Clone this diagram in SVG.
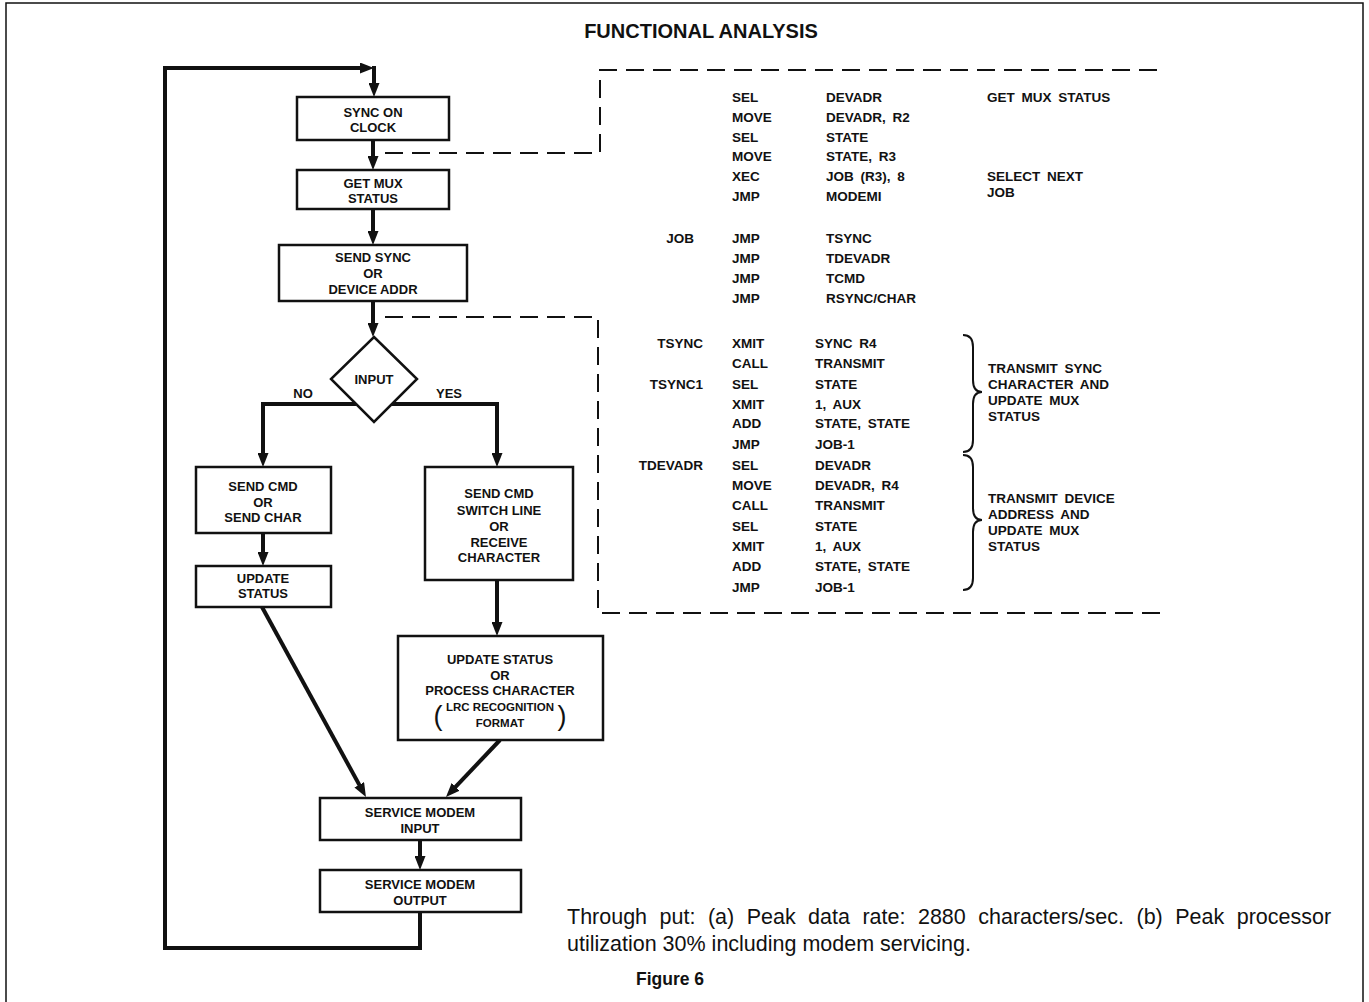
<svg xmlns="http://www.w3.org/2000/svg" width="1369" height="1002" viewBox="0 0 1369 1002">
  <defs>
    <style>
      .box { fill: #fff; stroke: #111; stroke-width: 2.5; }
      .flow { fill: none; stroke: #111; stroke-width: 4; stroke-linejoin: miter; }
      .dash { fill: none; stroke: #111; stroke-width: 2; stroke-dasharray: 18 9; }
      .brace { fill: none; stroke: #111; stroke-width: 2; }
      .lbl { font-family: "Liberation Sans", Arial, Helvetica, sans-serif; font-weight: bold; font-size: 13px; fill: #111; text-anchor: middle; }
      .small { font-size: 11.5px; }
      .code { font-family: "Liberation Sans", Arial, Helvetica, sans-serif; font-weight: bold; font-size: 13.5px; fill: #111; word-spacing: 3px; }
      .tag { text-anchor: end; }
      .note { font-family: "Liberation Sans", Arial, Helvetica, sans-serif; font-size: 21.5px; fill: #111; }
      .paren { font-family: "Liberation Sans", Arial, Helvetica, sans-serif; font-size: 27px; fill: #111; text-anchor: middle; }
    </style>
    <marker id="arrow" markerUnits="userSpaceOnUse" markerWidth="14" markerHeight="11" refX="7" refY="5.5" orient="auto">
      <path d="M0,0 L14,5.5 L0,11 z" fill="#111"/>
    </marker>
  </defs>

  <rect width="1369" height="1002" fill="#fff"/>

  <!-- page frame (open at the bottom) -->
  <path d="M6,1002 V3 H1363 V1002" fill="none" stroke="#111" stroke-width="1.5"/>

  <text x="701" y="38" text-anchor="middle" font-family="'Liberation Sans', Arial, sans-serif" font-weight="bold" font-size="20" fill="#111">FUNCTIONAL ANALYSIS</text>

  <!-- connectors -->
  <g id="connectors">
    <path class="flow" d="M420,912 V948 H165 V68 H367" marker-end="url(#arrow)"/>
    <path class="flow" d="M374,66 V90" marker-end="url(#arrow)"/>
    <path class="flow" d="M373,140 V163" marker-end="url(#arrow)"/>
    <path class="flow" d="M373,209 V238" marker-end="url(#arrow)"/>
    <path class="flow" d="M373,301 V330" marker-end="url(#arrow)"/>
    <path class="flow" d="M356,404 H263 V460" marker-end="url(#arrow)"/>
    <path class="flow" d="M392,404 H497 V460" marker-end="url(#arrow)"/>
    <path class="flow" d="M263,533 V559" marker-end="url(#arrow)"/>
    <path class="flow" d="M497,580 V629" marker-end="url(#arrow)"/>
    <path class="flow" d="M262,607 L362.6,790.9" marker-end="url(#arrow)"/>
    <path class="flow" d="M500,740 L450.8,791.9" marker-end="url(#arrow)"/>
    <path class="flow" d="M420,840 V863" marker-end="url(#arrow)"/>
    <!-- dashed call-outs to the code listing -->
    <path class="dash" d="M385,153 H600 V70 H1160"/>
    <path class="dash" d="M385,317 H598 V613 H1160"/>
  </g>

  <!-- flowchart nodes -->
  <g id="sync-on-clock">
    <rect class="box" x="297" y="97" width="152" height="43"/>
    <text class="lbl" x="373" y="116.5">SYNC ON</text>
    <text class="lbl" x="373" y="131.5">CLOCK</text>
  </g>
  <g id="get-mux-status">
    <rect class="box" x="297" y="170" width="152" height="39"/>
    <text class="lbl" x="373" y="187.5">GET MUX</text>
    <text class="lbl" x="373" y="202.5">STATUS</text>
  </g>
  <g id="send-sync">
    <rect class="box" x="279" y="245" width="188" height="56"/>
    <text class="lbl" x="373" y="261.5">SEND SYNC</text>
    <text class="lbl" x="373" y="277.5">OR</text>
    <text class="lbl" x="373" y="293.5">DEVICE ADDR</text>
  </g>
  <g id="input">
    <polygon class="box" points="374,337 417,379 374,422 331,379"/>
    <text class="lbl" x="374" y="383.5">INPUT</text>
    <text class="lbl" x="303" y="398">NO</text>
    <text class="lbl" x="449" y="398">YES</text>
  </g>
  <g id="send-cmd-char">
    <rect class="box" x="196" y="467" width="135" height="66"/>
    <text class="lbl" x="263" y="490.5">SEND CMD</text>
    <text class="lbl" x="263" y="506.5">OR</text>
    <text class="lbl" x="263" y="521.5">SEND CHAR</text>
  </g>
  <g id="update-status">
    <rect class="box" x="196" y="566" width="135" height="41"/>
    <text class="lbl" x="263" y="582.5">UPDATE</text>
    <text class="lbl" x="263" y="597.5">STATUS</text>
  </g>
  <g id="send-cmd-receive">
    <rect class="box" x="425" y="467" width="148" height="113"/>
    <text class="lbl" x="499" y="497.5">SEND CMD</text>
    <text class="lbl" x="499" y="514.5">SWITCH LINE</text>
    <text class="lbl" x="499" y="530.5">OR</text>
    <text class="lbl" x="499" y="546.5">RECEIVE</text>
    <text class="lbl" x="499" y="561.5">CHARACTER</text>
  </g>
  <g id="update-or-process">
    <rect class="box" x="398" y="636" width="205" height="104"/>
    <text class="lbl" x="500" y="663.5">UPDATE STATUS</text>
    <text class="lbl" x="500" y="679.5">OR</text>
    <text class="lbl" x="500" y="695">PROCESS CHARACTER</text>
    <text class="lbl small" x="500" y="711">LRC RECOGNITION</text>
    <text class="lbl small" x="500" y="727">FORMAT</text>
    <text class="paren" x="438" y="725">(</text>
    <text class="paren" x="562" y="725">)</text>
  </g>
  <g id="modem-input">
    <rect class="box" x="320" y="798" width="201" height="42"/>
    <text class="lbl" x="420" y="816.5">SERVICE MODEM</text>
    <text class="lbl" x="420" y="832.5">INPUT</text>
  </g>
  <g id="modem-output">
    <rect class="box" x="320" y="870" width="201" height="42"/>
    <text class="lbl" x="420" y="888.5">SERVICE MODEM</text>
    <text class="lbl" x="420" y="904.5">OUTPUT</text>
  </g>

  <!-- code listing -->
  <g id="listing-main" class="code">
    <text x="732" y="102">SEL</text><text x="826" y="102">DEVADR</text><text x="987" y="102">GET MUX STATUS</text>
    <text x="732" y="122">MOVE</text><text x="826" y="122">DEVADR, R2</text>
    <text x="732" y="142">SEL</text><text x="826" y="142">STATE</text>
    <text x="732" y="161">MOVE</text><text x="826" y="161">STATE, R3</text>
    <text x="732" y="181">XEC</text><text x="826" y="181">JOB (R3), 8</text><text x="987" y="181">SELECT NEXT</text>
    <text x="732" y="201">JMP</text><text x="826" y="201">MODEMI</text><text x="987" y="197">JOB</text>
  </g>
  <g id="listing-job" class="code">
    <text x="694" y="243" class="tag">JOB</text>
    <text x="732" y="243">JMP</text><text x="826" y="243">TSYNC</text>
    <text x="732" y="263">JMP</text><text x="826" y="263">TDEVADR</text>
    <text x="732" y="283">JMP</text><text x="826" y="283">TCMD</text>
    <text x="732" y="303">JMP</text><text x="826" y="303">RSYNC/CHAR</text>
  </g>
  <g id="listing-tsync" class="code">
    <text x="703" y="348" class="tag">TSYNC</text>
    <text x="732" y="348">XMIT</text><text x="815" y="348">SYNC R4</text>
    <text x="732" y="368">CALL</text><text x="815" y="368">TRANSMIT</text>
    <text x="703" y="389" class="tag">TSYNC1</text>
    <text x="732" y="389">SEL</text><text x="815" y="389">STATE</text>
    <text x="732" y="409">XMIT</text><text x="815" y="409">1, AUX</text>
    <text x="732" y="428">ADD</text><text x="815" y="428">STATE, STATE</text>
    <text x="732" y="449">JMP</text><text x="815" y="449">JOB-1</text>
    <path class="brace" d="M963,335 Q973,335 973,347 V380 Q973,392 982,392 Q973,392 973,404 V440 Q973,452 963,452"/>
    <text x="988" y="373">TRANSMIT SYNC</text>
    <text x="988" y="389">CHARACTER AND</text>
    <text x="988" y="405">UPDATE MUX</text>
    <text x="988" y="421">STATUS</text>
  </g>
  <g id="listing-tdevadr" class="code">
    <text x="703" y="470" class="tag">TDEVADR</text>
    <text x="732" y="470">SEL</text><text x="815" y="470">DEVADR</text>
    <text x="732" y="490">MOVE</text><text x="815" y="490">DEVADR, R4</text>
    <text x="732" y="510">CALL</text><text x="815" y="510">TRANSMIT</text>
    <text x="732" y="531">SEL</text><text x="815" y="531">STATE</text>
    <text x="732" y="551">XMIT</text><text x="815" y="551">1, AUX</text>
    <text x="732" y="571">ADD</text><text x="815" y="571">STATE, STATE</text>
    <text x="732" y="592">JMP</text><text x="815" y="592">JOB-1</text>
    <path class="brace" d="M963,455 Q973,455 973,467 V508 Q973,520 982,520 Q973,520 973,532 V578 Q973,590 963,590"/>
    <text x="988" y="503">TRANSMIT DEVICE</text>
    <text x="988" y="519">ADDRESS AND</text>
    <text x="988" y="535">UPDATE MUX</text>
    <text x="988" y="551">STATUS</text>
  </g>

  <!-- throughput note and caption -->
  <text class="note" x="567" y="924" word-spacing="6.5">Through put: (a) Peak data rate: 2880 characters/sec. (b) Peak processor</text>
  <text class="note" x="567" y="951">utilization 30% including modem servicing.</text>
  <text x="636" y="985" font-family="'Liberation Sans', Arial, sans-serif" font-weight="bold" font-size="17.5" fill="#111">Figure 6</text>
</svg>
